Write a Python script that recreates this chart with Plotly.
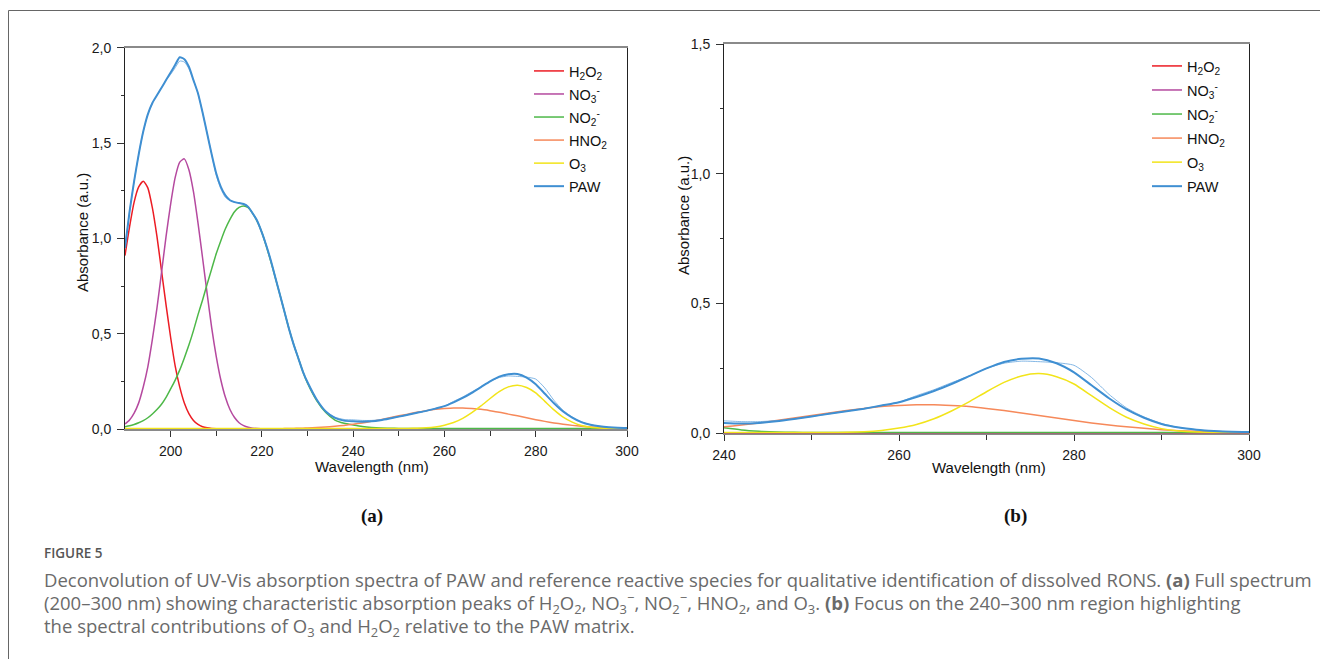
import plotly.graph_objects as go

W, H = 1320, 659

# ---------------- data ----------------
wavelength = list(range(190, 231)) + list(range(232, 301, 2))

h2o2 = [0.91, 1.06, 1.19, 1.27, 1.30, 1.265, 1.16, 1.01, 0.83, 0.65, 0.48, 0.33, 0.22,
        0.137, 0.081, 0.045, 0.024, 0.012, 0.006, 0.0025, 0.001] + [0.0] * 55

no3 = [0.026, 0.047, 0.083, 0.137, 0.22, 0.326, 0.47, 0.634, 0.82, 1.01, 1.18, 1.32, 1.40,
       1.417, 1.36, 1.245, 1.08, 0.897, 0.71, 0.53, 0.38, 0.257, 0.166, 0.102, 0.06, 0.033,
       0.018, 0.009, 0.004, 0.002, 0.001] + [0.0] * 45

no2 = [0.012, 0.017, 0.024, 0.033, 0.044, 0.059, 0.079, 0.102, 0.13, 0.166, 0.21, 0.256,
       0.31, 0.373, 0.44, 0.516, 0.60, 0.677, 0.76, 0.84, 0.92, 0.988, 1.05, 1.10, 1.14,
       1.162, 1.17, 1.161, 1.13, 1.088, 1.03, 0.956, 0.875, 0.788, 0.70, 0.609, 0.52, 0.441,
       0.37, 0.299, 0.24,
       0.149, 0.086, 0.047, 0.03, 0.021, 0.013, 0.008, 0.005, 0.004] + [0.003] * 26

hno2 = [0.0] * 28 + [0.0004, 0.0005, 0.0006, 0.0008, 0.001, 0.0012, 0.0015, 0.002, 0.0024,
                     0.003, 0.0036, 0.0044, 0.0052,
                     0.0075, 0.010, 0.014, 0.019, 0.025, 0.032, 0.040, 0.049, 0.059, 0.069,
                     0.078, 0.088, 0.096, 0.103, 0.107, 0.110, 0.110, 0.107, 0.103, 0.096,
                     0.088, 0.078, 0.069, 0.059, 0.049, 0.040, 0.032, 0.025, 0.019, 0.014,
                     0.010, 0.0075, 0.005, 0.0036, 0.0024]

o3 = [0.003] * 52 + [0.004, 0.006, 0.011, 0.020, 0.034, 0.056, 0.086, 0.121, 0.16, 0.196,
                     0.221, 0.23, 0.218, 0.19, 0.145, 0.10, 0.062, 0.036, 0.018, 0.009,
                     0.005, 0.003, 0.003, 0.003]

paw_fit = [0.95, 1.14, 1.30, 1.44, 1.56, 1.65, 1.71, 1.75, 1.79, 1.83, 1.87, 1.91, 1.95,
           1.94, 1.90, 1.83, 1.76, 1.66, 1.55, 1.44, 1.34, 1.27, 1.225, 1.20, 1.19, 1.185,
           1.18, 1.165, 1.13, 1.09, 1.03, 0.96, 0.88, 0.79, 0.70, 0.61, 0.52, 0.44, 0.37,
           0.30, 0.245,
           0.155, 0.092, 0.058, 0.044, 0.040, 0.038, 0.040, 0.046, 0.055, 0.065, 0.075,
           0.085, 0.095, 0.107, 0.12, 0.14, 0.163, 0.19, 0.22, 0.25, 0.275, 0.287, 0.288,
           0.27, 0.235, 0.185, 0.135, 0.092, 0.06, 0.036, 0.022, 0.014, 0.009, 0.006, 0.005]

paw_measured = [0.95, 1.14, 1.30, 1.44, 1.56, 1.65, 1.71, 1.75, 1.79, 1.83, 1.86, 1.895,
                1.93, 1.925, 1.89, 1.83, 1.76, 1.66, 1.55, 1.44, 1.33, 1.26, 1.215, 1.20,
                1.19, 1.185, 1.18, 1.165, 1.13, 1.09, 1.03, 0.96, 0.88, 0.79, 0.70, 0.61,
                0.52, 0.44, 0.37, 0.30, 0.245,
                0.155, 0.092, 0.062, 0.05, 0.048, 0.045, 0.045, 0.049, 0.055, 0.065, 0.075,
                0.085, 0.095, 0.107, 0.12, 0.145, 0.168, 0.195, 0.22, 0.25, 0.27, 0.278,
                0.276, 0.272, 0.262, 0.215, 0.15, 0.098, 0.063, 0.038, 0.022, 0.014, 0.009,
                0.006, 0.005]

for _s in (h2o2, no3, no2, hno2, o3, paw_fit, paw_measured):
    assert len(_s) == len(wavelength), len(_s)

species_names = ["H<sub>2</sub>O<sub>2</sub>", "NO<sub>3</sub><sup>-</sup>",
                 "NO<sub>2</sub><sup>-</sup>", "HNO<sub>2</sub>", "O<sub>3</sub>", "PAW"]
species_values = [h2o2, no3, no2, hno2, o3, paw_fit]
species_colors = ["#ec1c24", "#b5499f", "#4db848", "#f6895a", "#f2e41a", "#3f8fd2"]
paw_measured_color = "rgba(110,170,225,0.85)"

# ticks
xa_ticks = [200, 220, 240, 260, 280, 300]
xa_minor = [210, 230, 250, 270, 290]
ya_ticks = [0.0, 0.5, 1.0, 1.5, 2.0]
ya_labels = ["0,0", "0,5", "1,0", "1,5", "2,0"]
ya_minor = [0.25, 0.75, 1.25, 1.75]

xb_ticks = [240, 260, 280, 300]
xb_minor = [250, 270, 290]
yb_ticks = [0.0, 0.5, 1.0, 1.5]
yb_labels = ["0,0", "0,5", "1,0", "1,5"]
yb_minor = [0.25, 0.75, 1.25]


# ---------------- figure ----------------
def px(x):
    return x / W


def py(y):
    return 1 - y / H


fig = go.Figure()

for xr, yr, leg in (("x", "y", "legend"), ("x2", "y2", "legend2")):
    for name, vals, col in zip(species_names, species_values, species_colors):
        if name == "PAW":
            fig.add_trace(go.Scatter(x=wavelength, y=paw_measured, xaxis=xr, yaxis=yr,
                                     mode="lines", line=dict(color=paw_measured_color, width=1,
                                                             shape="spline", smoothing=0.6),
                                     showlegend=False, hoverinfo="skip"))
        fig.add_trace(go.Scatter(x=wavelength, y=vals, xaxis=xr, yaxis=yr, name=name,
                                 legend=leg, legendgroup=leg + name,
                                 mode="lines",
                                 line=dict(color=col, width=2 if name == "PAW" else 1.5,
                                           shape="spline", smoothing=0.6)))

font_tick = dict(family="Liberation Sans, Arial, sans-serif", size=14, color="#1a1a1a")


def xaxis_cfg(domain, rng, ticks, minor):
    return dict(domain=domain, range=rng, tickmode="array", tickvals=ticks,
                ticktext=[str(t) for t in ticks], ticks="outside", ticklen=6, tickwidth=1,
                tickcolor="#333", showline=True, linecolor="#8a8a8a", linewidth=1.5,
                mirror=True, showgrid=False, zeroline=False, tickfont=font_tick,
                layer="below traces", ticklabelstandoff=2, automargin=False,
                minor=dict(tickmode="array", tickvals=minor, ticks="outside", ticklen=5,
                           tickcolor="#333", showgrid=False))


def yaxis_cfg(domain, rng, ticks, labels, minor, anchor):
    return dict(domain=domain, range=rng, anchor=anchor, tickmode="array", tickvals=ticks,
                ticktext=labels, ticks="outside", ticklen=7, tickwidth=1, tickcolor="#333",
                showline=True, linecolor="#222", linewidth=1, mirror=True, showgrid=False,
                zeroline=False, tickfont=font_tick, ticklabelstandoff=3, automargin=False,
                minor=dict(tickmode="array", tickvals=minor, ticks="outside", ticklen=3,
                           tickcolor="#333", showgrid=False))


leg_font = dict(family="Liberation Sans, Arial, sans-serif", size=14.5, color="#111")

fig.update_layout(
    width=W, height=H,
    margin=dict(l=0, r=0, t=0, b=0, pad=0, autoexpand=False),
    paper_bgcolor="white", plot_bgcolor="white",
    xaxis=dict(xaxis_cfg([px(125), px(627)], [190, 300], xa_ticks, xa_minor), anchor="y"),
    yaxis=yaxis_cfg([py(429), py(47.7)], [0, 2.0], ya_ticks, ya_labels, ya_minor, "x"),
    xaxis2=dict(xaxis_cfg([px(724), px(1249)], [240, 300], xb_ticks, xb_minor), anchor="y2"),
    yaxis2=yaxis_cfg([py(433.3), py(44)], [0, 1.5], yb_ticks, yb_labels, yb_minor, "x2"),
    legend=dict(x=px(529), y=py(55), xanchor="left", yanchor="top", font=leg_font,
                bgcolor="rgba(0,0,0,0)", tracegroupgap=1.2, traceorder="grouped"),
    legend2=dict(x=px(1147), y=py(50), xanchor="left", yanchor="top", font=leg_font,
                 bgcolor="rgba(0,0,0,0)", tracegroupgap=2.2, traceorder="grouped"),
    showlegend=True,
)

ann = []
title_font = dict(family="Liberation Sans, Arial, sans-serif", size=15, color="#111")
ann.append(dict(x=px(82), y=py(233), text="Absorbance (a.u.)", textangle=-90, font=title_font))
ann.append(dict(x=px(683), y=py(216), text="Absorbance (a.u.)", textangle=-90, font=title_font))
ann.append(dict(x=px(372), y=py(466), text="Wavelength (nm)", font=title_font))
ann.append(dict(x=px(989), y=py(467), text="Wavelength (nm)", font=title_font))

panel_font = dict(family="Liberation Serif, Times New Roman, serif", size=19, color="#111")
ann.append(dict(x=px(372), y=py(516), text="<b>(a)</b>", font=panel_font))
ann.append(dict(x=px(1015), y=py(516), text="<b>(b)</b>", font=panel_font))

ann.append(dict(x=px(42), y=py(553), text="FIGURE 5", xanchor="left",
                font=dict(family="Open Sans, sans-serif", size=13.5, color="#555", weight=600)))

cap_font = dict(family="Open Sans, sans-serif", size=18.5, color="#6a6a6a")
caption_lines = [
    "Deconvolution of UV-Vis absorption spectra of PAW and reference reactive species for "
    "qualitative identification of dissolved RONS. <b>(a)</b> Full spectrum",
    "(200–300 nm) showing characteristic absorption peaks of H<sub>2</sub>O<sub>2</sub>, "
    "NO<sub>3</sub><sup>−</sup>, NO<sub>2</sub><sup>−</sup>, HNO<sub>2</sub>, and O<sub>3</sub>. "
    "<b>(b)</b> Focus on the 240–300 nm region highlighting",
    "the spectral contributions of O<sub>3</sub> and H<sub>2</sub>O<sub>2</sub> relative to "
    "the PAW matrix.",
]
for line, yy in zip(caption_lines, [579, 603, 627]):
    ann.append(dict(x=px(42), y=py(yy), text=line, xanchor="left", font=cap_font))

for a in ann:
    a.setdefault("xref", "paper")
    a.setdefault("yref", "paper")
    a.setdefault("showarrow", False)
    a.setdefault("xanchor", "center")
    a.setdefault("yanchor", "middle")
fig.update_layout(annotations=ann)

# outer frame of the figure panel (top and left edges)
fig.add_shape(type="line", xref="paper", yref="paper", x0=px(8.5), x1=1.0, y0=py(10.5),
              y1=py(10.5), line=dict(color="#666", width=1))
fig.add_shape(type="line", xref="paper", yref="paper", x0=px(8.5), x1=px(8.5), y0=0,
              y1=py(10.5), line=dict(color="#666", width=1))

fig.write_html("out.html")
